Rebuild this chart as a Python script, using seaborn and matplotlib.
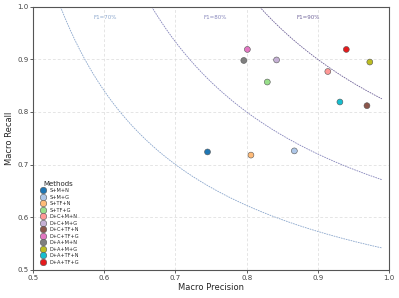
import numpy as np
import pandas as pd
import matplotlib
matplotlib.use("Agg")
import matplotlib.pyplot as plt
import seaborn as sns

# ── Data ─────────────────────────────────────────────────
methods = ["S+M+N", "S+M+G", "S+TF+N", "S+TF+G",
           "D+C+M+N", "D+C+M+G", "D+C+TF+N", "D+C+TF+G",
           "D+A+M+N", "D+A+M+G", "D+A+TF+N", "D+A+TF+G"]
precision = [0.745, 0.867, 0.806, 0.829, 0.914, 0.842,
             0.969, 0.801, 0.796, 0.973, 0.931, 0.940]
recall = [0.724, 0.726, 0.718, 0.857, 0.877, 0.899,
          0.812, 0.919, 0.898, 0.895, 0.819, 0.919]
colors = ["#1f77b4", "#aec7e8", "#ffbb78", "#98df8a", "#ff9896", "#c5b0d5",
          "#8c564b", "#e377c2", "#7f7f7f", "#bcbd22", "#17becf", "#e41a1c"]

f1_levels = [0.7, 0.8, 0.9]
f1_labels = ["F1=70%", "F1=80%", "F1=90%"]
f1_label_x = [0.601, 0.756, 0.886]
f1_colors = ["#8aa6cc", "#8585bb", "#6f6399"]

df = pd.DataFrame({"Method": methods, "Precision": precision, "Recall": recall})

# ── Style ────────────────────────────────────────────────
sns.set_theme(style="whitegrid")
plt.rcParams["font.family"] = ["DejaVu Sans"]

fig, ax = plt.subplots(figsize=(3.99, 2.98), dpi=100)

# iso-F1 curves
for f, lab, lx, c in zip(f1_levels, f1_labels, f1_label_x, f1_colors):
    p = np.linspace(f / (2 - f), 0.99, 200)
    r = f * p / (2 * p - f)
    ax.plot(p, r, linestyle=(0, (2, 1)), color=c, linewidth=0.6)
    ax.text(lx, 0.98, lab, fontsize=4, color=c, ha="center", va="center")

sns.scatterplot(data=df, x="Precision", y="Recall", hue="Method",
                hue_order=methods, palette=colors, s=18,
                edgecolor="#555555", linewidth=0.4, ax=ax, zorder=3)

ax.set_xlim(0.5, 1.0)
ax.set_ylim(0.5, 1.0)
ax.set_xticks(np.arange(0.5, 1.01, 0.1))
ax.set_yticks(np.arange(0.5, 1.01, 0.1))
ax.set_xlabel("Macro Precision", fontsize=6, labelpad=2)
ax.set_ylabel("Macro Recall", fontsize=6, labelpad=2)
ax.tick_params(axis="both", labelsize=5, length=2, width=0.6, pad=1.5,
               colors="#444444", left=True, bottom=True)
ax.grid(True, linestyle=(0, (4, 3)), linewidth=0.5, color="#dadada")
for s in ax.spines.values():
    s.set_color("#555555")
    s.set_linewidth(0.8)

leg = ax.legend(title="Methods", loc="lower left", fontsize=3.6,
                title_fontsize=5, frameon=False, markerscale=1.1,
                handletextpad=0.3, labelspacing=0.3, borderaxespad=0.6)

fig.subplots_adjust(left=0.083, right=0.975, top=0.977, bottom=0.095)
fig.savefig("out.png", dpi=100)
